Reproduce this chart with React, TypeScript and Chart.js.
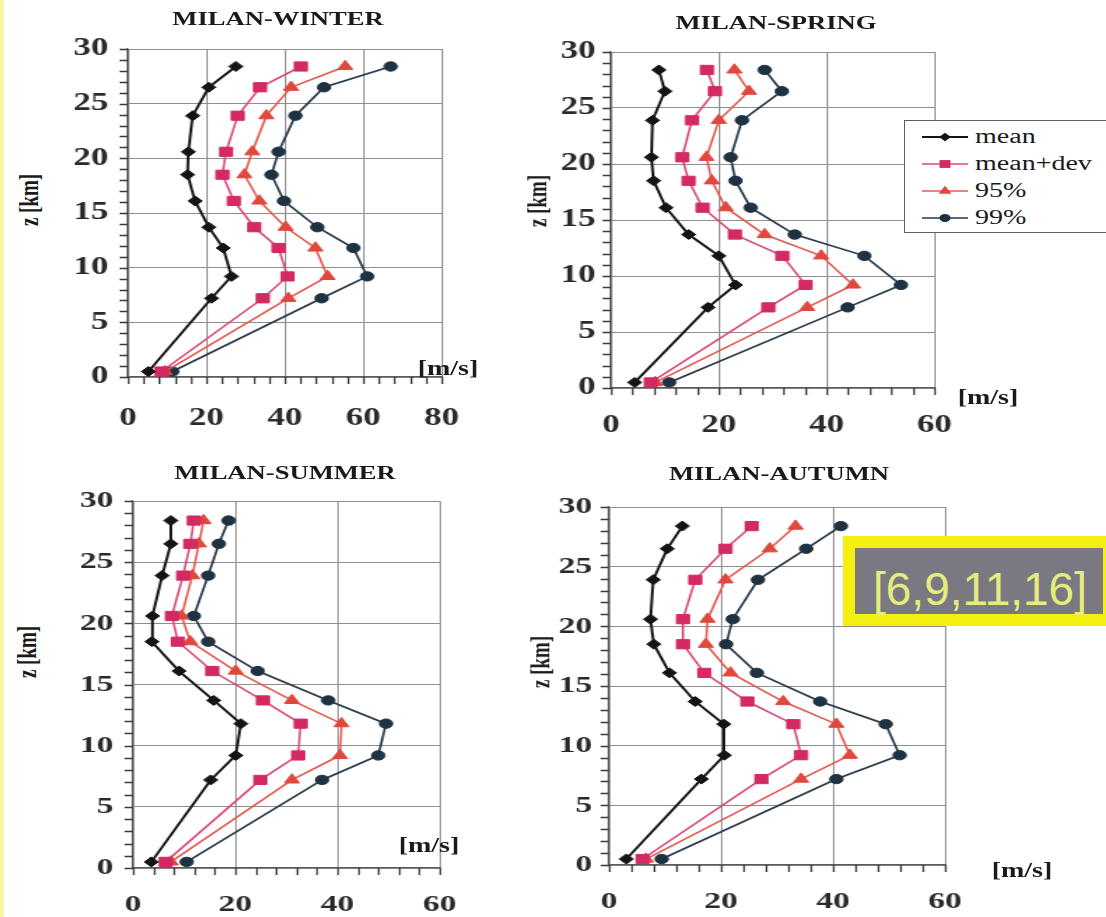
import React, { useEffect, useRef } from 'react';
import { Chart, registerables } from 'chart.js';

Chart.register(...registerables);

// Altitudes (km) of the levels where the wind statistics are given
const LEVELS_KM = [0.5, 7.2, 9.2, 11.8, 13.7, 16.1, 18.5, 20.6, 23.9, 26.5, 28.4];

const Z_TICKS = [0, 5, 10, 15, 20, 25, 30];
const X_TICKS_WINTER = [0, 20, 40, 60, 80];
const X_TICKS_OTHER = [0, 20, 40, 60];

const SERIES_LABELS = ['mean', 'mean+dev', '95%', '99%'];

// Wind speed (m/s) per level, bottom to top
const WINTER_MEAN = [5.2, 21.3, 26.4, 24.3, 20.6, 17.1, 15.2, 15.4, 16.5, 20.6, 27.5];
const WINTER_DEV = [8.5, 34.4, 40.7, 38.4, 32.2, 27.0, 24.1, 25.0, 28.0, 33.7, 44.1];
const WINTER_95 = [9.4, 40.9, 50.9, 47.8, 40.2, 33.5, 29.7, 31.7, 35.3, 41.6, 55.4];
const WINTER_99 = [11.3, 49.4, 61.0, 57.5, 48.3, 39.8, 36.6, 38.4, 42.7, 50.0, 67.0];

const SPRING_MEAN = [4.4, 18.0, 23.1, 20.0, 14.4, 10.2, 7.9, 7.5, 7.7, 10.0, 8.9];
const SPRING_DEV = [7.4, 29.2, 36.1, 31.8, 23.0, 17.0, 14.4, 13.2, 15.0, 19.3, 17.8];
const SPRING_95 = [8.2, 36.4, 44.9, 39.0, 28.5, 21.3, 18.7, 17.7, 20.0, 25.6, 22.9];
const SPRING_99 = [10.8, 43.9, 53.8, 47.0, 34.1, 25.9, 23.1, 22.2, 24.3, 31.7, 28.5];

const SUMMER_MEAN = [3.6, 15.2, 20.1, 21.1, 15.8, 9.0, 3.7, 3.8, 5.7, 7.4, 7.4];
const SUMMER_DEV = [6.4, 24.9, 32.3, 32.8, 25.4, 15.5, 8.8, 7.6, 9.8, 11.2, 11.9];
const SUMMER_95 = [7.4, 31.1, 40.5, 40.8, 31.1, 20.1, 11.2, 9.5, 11.6, 12.9, 13.8];
const SUMMER_99 = [10.5, 37.0, 48.0, 49.5, 38.2, 24.4, 14.7, 11.9, 14.7, 16.8, 18.7];

const AUTUMN_MEAN = [3.1, 16.5, 20.6, 20.5, 15.4, 10.8, 8.0, 7.4, 7.9, 10.4, 13.1];
const AUTUMN_DEV = [6.0, 27.2, 34.3, 32.9, 24.7, 17.0, 13.2, 13.2, 15.4, 20.8, 25.5];
const AUTUMN_95 = [6.6, 34.3, 43.0, 40.6, 31.1, 21.7, 17.3, 17.6, 20.8, 28.7, 33.3];
const AUTUMN_99 = [9.4, 40.6, 51.9, 49.4, 37.7, 26.4, 20.9, 22.1, 26.6, 35.2, 41.4];

const LEVEL_SET_NOTE = '[6,9,11,16]';

// Horizontal stretch applied to the whole figure (text and canvases)
const S = 1.4;

type Series = { color: string; line: string; point: string; radius: number; width: number };

const SERIES_STYLE: Series[] = [
  { color: '#141414', line: '#161616', point: 'rectRot', radius: 5, width: 2 },
  { color: '#d42a62', line: '#d9497a', point: 'rect', radius: 6.5, width: 1.6 },
  { color: '#e0483e', line: '#e25a50', point: 'triangle', radius: 6.2, width: 1.6 },
  { color: '#1f3242', line: '#27394a', point: 'circle', radius: 4.7, width: 1.7 },
];

type PanelSpec = {
  title: string;
  xTicks: number[];
  series: number[][];
  plot: { x0: number; x1: number; y30: number; y0: number };
  tickSize: number;
  yPad: number;
  xPad: number;
  titleAt: [number, number];
  zAt: [number, number];
  unitAt: [number, number];
};

const PANELS: PanelSpec[] = [
  {
    title: 'MILAN-WINTER',
    xTicks: X_TICKS_WINTER,
    series: [WINTER_MEAN, WINTER_DEV, WINTER_95, WINTER_99],
    plot: { x0: 128, x1: 442, y30: 49, y0: 377 },
    tickSize: 25, yPad: 14, xPad: 27,
    titleAt: [278, 18], zAt: [29, 200], unitAt: [448, 368],
  },
  {
    title: 'MILAN-SPRING',
    xTicks: X_TICKS_OTHER,
    series: [SPRING_MEAN, SPRING_DEV, SPRING_95, SPRING_99],
    plot: { x0: 611, x1: 934, y30: 52, y0: 388 },
    tickSize: 25, yPad: 11, xPad: 23,
    titleAt: [776, 22], zAt: [537, 201], unitAt: [988, 397],
  },
  {
    title: 'MILAN-SUMMER',
    xTicks: X_TICKS_OTHER,
    series: [SUMMER_MEAN, SUMMER_DEV, SUMMER_95, SUMMER_99],
    plot: { x0: 133, x1: 439, y30: 501, y0: 868 },
    tickSize: 24, yPad: 14, xPad: 22,
    titleAt: [285, 472], zAt: [27, 652], unitAt: [429, 845],
  },
  {
    title: 'MILAN-AUTUMN',
    xTicks: X_TICKS_OTHER,
    series: [AUTUMN_MEAN, AUTUMN_DEV, AUTUMN_95, AUTUMN_99],
    plot: { x0: 609, x1: 945, y30: 507, y0: 865 },
    tickSize: 24, yPad: 12, xPad: 22,
    titleAt: [779, 473], zAt: [540, 662], unitAt: [1022, 870],
  },
];

// Canvas margins around the plotting area (canvas units)
const AXIS_W = 50;
const PAD_T = 40;
const PAD_R = 50;
const AXIS_H = 62;

// Short ruler marks on the outside of both axes, one per scale tick
const rulerTicks = {
  id: 'rulerTicks',
  afterDraw(chart: any) {
    const { ctx, chartArea, scales } = chart;
    const xs = scales.x;
    const ys = scales.y;
    ctx.save();
    ctx.strokeStyle = '#3a3a3a';
    ctx.lineWidth = 1.3;
    ctx.beginPath();
    for (const t of ys.ticks) {
      const py = Math.round(ys.getPixelForValue(t.value)) + 0.5;
      ctx.moveTo(chartArea.left - 6, py);
      ctx.lineTo(chartArea.left, py);
    }
    for (const t of xs.ticks) {
      const px = Math.round(xs.getPixelForValue(t.value)) + 0.5;
      ctx.moveTo(px, chartArea.bottom);
      ctx.lineTo(px, chartArea.bottom + 7);
    }
    ctx.stroke();
    ctx.restore();
  },
};

function ProfileChart({ spec }: { spec: PanelSpec }) {
  const ref = useRef<HTMLCanvasElement>(null);
  const { x0, x1, y30, y0 } = spec.plot;
  const left = x0 - AXIS_W * S;
  const top = y30 - PAD_T;
  const width = Math.round((x1 - x0) / S + AXIS_W + PAD_R);
  const height = Math.round(y0 - y30 + PAD_T + AXIS_H);

  useEffect(() => {
    if (!ref.current) return;
    const xMax = spec.xTicks[spec.xTicks.length - 1];
    const zMax = Z_TICKS[Z_TICKS.length - 1];
    const font = {
      family: "'Liberation Serif', 'Times New Roman', serif",
      size: spec.tickSize,
      weight: 'bold' as const,
    };
    const chart = new Chart(ref.current, {
      type: 'scatter',
      data: {
        datasets: spec.series.map((vals, i) => {
          const st = SERIES_STYLE[i];
          return {
            label: SERIES_LABELS[i],
            data: vals.map((v, j) => ({ x: v, y: LEVELS_KM[j] })),
            showLine: true,
            tension: 0,
            borderColor: st.line,
            borderWidth: st.width,
            backgroundColor: st.color,
            pointBackgroundColor: st.color,
            pointBorderColor: st.color,
            pointBorderWidth: 1,
            pointStyle: st.point as any,
            pointRadius: st.radius,
          };
        }),
      },
      plugins: [rulerTicks],
      options: {
        responsive: false,
        maintainAspectRatio: false,
        animation: false,
        layout: { padding: { top: PAD_T, right: PAD_R, left: 0, bottom: 0 } },
        plugins: { legend: { display: false }, tooltip: { enabled: false } },
        scales: {
          x: {
            type: 'linear',
            min: spec.xTicks[0],
            max: xMax,
            afterFit: (s: any) => { s.height = AXIS_H; },
            ticks: {
              stepSize: 4,
              autoSkip: false,
              maxRotation: 0,
              padding: spec.xPad,
              color: '#2a2a2a',
              font,
              callback: (v: any) => (spec.xTicks.includes(Number(v)) ? String(v) : ''),
            },
            grid: {
              color: (c: any) => (c.tick && spec.xTicks.includes(c.tick.value) ? '#8e8e8e' : 'rgba(0,0,0,0)'),
              drawTicks: false,
              lineWidth: 1,
            },
            border: { color: '#5a5a5a', width: 1.2 },
          },
          y: {
            type: 'linear',
            min: Z_TICKS[0],
            max: zMax,
            afterFit: (s: any) => { s.width = AXIS_W; },
            ticks: {
              stepSize: 1,
              autoSkip: false,
              padding: spec.yPad,
              color: '#2a2a2a',
              font,
              callback: (v: any) => (Z_TICKS.includes(Number(v)) ? String(v) : ''),
            },
            grid: {
              color: (c: any) => (c.tick && Z_TICKS.includes(c.tick.value) ? '#8e8e8e' : 'rgba(0,0,0,0)'),
              drawTicks: false,
              lineWidth: 1,
            },
            border: { color: '#5a5a5a', width: 1.2 },
          },
        },
      },
    });
    return () => chart.destroy();
  }, [spec]);

  return (
    <canvas
      ref={ref}
      width={width}
      height={height}
      style={{
        position: 'absolute',
        left,
        top,
        width,
        height,
        transform: `scaleX(${S})`,
        transformOrigin: '0 0',
      }}
    />
  );
}

const serif = "'Liberation Serif', 'Times New Roman', serif";

function Label({ at, text, size, bold, rotate }: { at: [number, number]; text: string; size: number; bold?: boolean; rotate?: boolean }) {
  return (
    <div
      style={{
        position: 'absolute',
        left: at[0],
        top: at[1],
        transform: `translate(-50%, -50%) scaleX(${S})${rotate ? ' rotate(-90deg)' : ''}`,
        fontFamily: serif,
        fontSize: size,
        fontWeight: bold ? 'bold' : 'normal',
        color: '#1a1a1a',
        whiteSpace: 'nowrap',
        lineHeight: 1,
      }}
    >
      {text}
    </div>
  );
}

function LegendSample({ st }: { st: Series }) {
  const cx = 23;
  const cy = 8;
  const r = st.radius * 0.85;
  let marker: React.ReactNode = null;
  if (st.point === 'circle') {
    marker = <ellipse cx={cx} cy={cy} rx={r * S} ry={r} fill={st.color} />;
  } else if (st.point === 'rect') {
    const h = r * Math.SQRT1_2;
    marker = <rect x={cx - h * S} y={cy - h} width={2 * h * S} height={2 * h} fill={st.color} />;
  } else if (st.point === 'triangle') {
    marker = (
      <polygon
        points={`${cx - r * 0.87 * S},${cy + r * 0.5} ${cx + r * 0.87 * S},${cy + r * 0.5} ${cx},${cy - r}`}
        fill={st.color}
      />
    );
  } else {
    marker = (
      <polygon points={`${cx - r * S},${cy} ${cx},${cy - r} ${cx + r * S},${cy} ${cx},${cy + r}`} fill={st.color} />
    );
  }
  return (
    <svg width={46} height={16} style={{ position: 'absolute', left: 0, top: -8 }}>
      <line x1={0} y1={cy} x2={46} y2={cy} stroke={st.line} strokeWidth={st.width} />
      {marker}
    </svg>
  );
}

function Legend() {
  const rows = [137, 164, 191, 218];
  return (
    <>
      <div
        style={{
          position: 'absolute',
          left: 904,
          top: 120,
          width: 215,
          height: 113,
          border: '1.5px solid #5e5e5e',
          background: '#fff',
          boxSizing: 'border-box',
        }}
      />
      {SERIES_LABELS.map((name, i) => (
        <div key={name} style={{ position: 'absolute', left: 922, top: rows[i] }}>
          <LegendSample st={SERIES_STYLE[i]} />
          <div
            style={{
              position: 'absolute',
              left: 53,
              top: 0,
              transform: `translateY(-55%) scaleX(${S})`,
              transformOrigin: '0 50%',
              fontFamily: serif,
              fontSize: 20,
              color: '#1a1a1a',
              whiteSpace: 'nowrap',
              lineHeight: 1,
            }}
          >
            {name}
          </div>
        </div>
      ))}
    </>
  );
}

export default function App() {
  return (
    <div
      style={{
        position: 'fixed',
        left: 0,
        top: 0,
        width: 1106,
        height: 917,
        overflow: 'hidden',
        background: '#ffffff',
      }}
    >
      <div style={{ position: 'absolute', left: 0, top: 0, width: 4, height: 917, background: '#fbf4a4' }} />
      {PANELS.map((p) => (
        <React.Fragment key={p.title}>
          <ProfileChart spec={p} />
          <Label at={p.titleAt} text={p.title} size={19} bold />
          <Label at={p.zAt} text="z [km]" size={19} bold rotate />
          <Label at={p.unitAt} text="[m/s]" size={20} bold />
        </React.Fragment>
      ))}
      <Legend />
      <div
        style={{
          position: 'absolute',
          left: 843,
          top: 536,
          width: 272,
          height: 90,
          boxSizing: 'border-box',
          border: '12px solid #f3ef10',
          background: '#7a7982',
        }}
      />
      <div
        style={{
          position: 'absolute',
          left: 873,
          top: 566,
          fontFamily: "'Liberation Sans', Arial, sans-serif",
          fontSize: 46,
          lineHeight: '46px',
          color: '#e3ec7c',
          whiteSpace: 'nowrap',
        }}
      >
        {LEVEL_SET_NOTE}
      </div>
    </div>
  );
}
